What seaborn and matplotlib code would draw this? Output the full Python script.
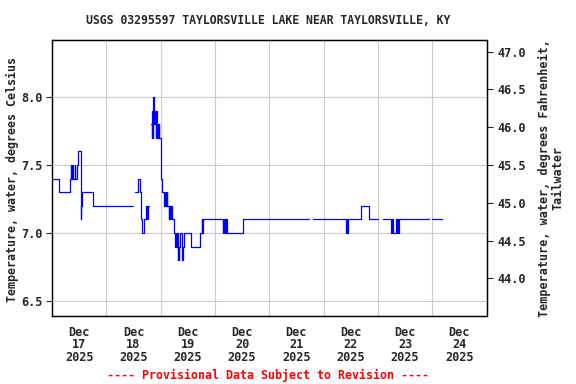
import matplotlib
matplotlib.use("Agg")
import matplotlib.pyplot as plt
import seaborn as sns
import pandas as pd
import numpy as np

# Hours since 2025-12-17 00:00, water temperature (deg C); separate segments = gaps
hours_a = [0.0, 3.25, 7.75, 8.25, 8.5, 8.75, 9.5, 10.0, 10.25, 11.0, 11.5, 12.75, 13.0, 13.25, 18.25, 35.75]
temp_a = [7.4, 7.3, 7.4, 7.5, 7.4, 7.5, 7.4, 7.5, 7.4, 7.5, 7.6, 7.1, 7.2, 7.3, 7.2, 7.2]

hours_b = [36.75, 38.0, 39.0, 39.5, 39.75, 40.5, 41.75, 42.0, 42.25, 42.75]
temp_b = [7.3, 7.4, 7.3, 7.1, 7.0, 7.1, 7.2, 7.1, 7.2, 7.2]

hours_c = [43.75, 44.0, 44.25, 44.5, 44.75, 45.0, 45.25, 45.5, 45.75, 46.0, 46.25, 46.5, 46.75,
           47.0, 47.25, 47.5, 48.0, 48.5, 49.5, 49.75, 50.0, 50.25, 50.5, 50.75, 51.0, 51.5,
           51.75, 52.0, 52.25, 52.5, 52.75, 53.0, 53.75, 54.5, 54.75, 55.0, 55.25, 55.5, 55.75,
           56.0, 56.25, 56.75, 57.5, 57.75, 58.5, 61.25, 65.25, 66.25, 66.5, 66.75, 75.5, 75.75,
           76.0, 76.5, 76.75, 77.0, 77.25, 84.25, 113.75]
temp_c = [7.8, 7.7, 7.9, 7.7, 8.0, 7.9, 7.8, 7.9, 7.7, 7.9, 7.8, 7.7, 7.8,
          7.7, 7.8, 7.7, 7.4, 7.3, 7.2, 7.3, 7.2, 7.3, 7.2, 7.3, 7.2, 7.1,
          7.2, 7.1, 7.2, 7.1, 7.2, 7.1, 7.0, 6.9, 7.0, 6.9, 7.0, 6.8, 6.9,
          6.8, 6.9, 7.0, 6.8, 6.9, 7.0, 6.9, 7.0, 7.1, 7.0, 7.1, 7.0, 7.1,
          7.0, 7.1, 7.0, 7.1, 7.0, 7.1, 7.1]

hours_d = [115.25, 130.0, 130.25, 130.5, 131.0, 136.5, 140.25, 144.0]
temp_d = [7.1, 7.0, 7.1, 7.0, 7.1, 7.2, 7.1, 7.1]

hours_e = [146.25, 150.0, 150.25, 150.5, 152.0, 152.25, 152.5, 152.75, 153.5, 166.75]
temp_e = [7.1, 7.0, 7.1, 7.0, 7.1, 7.0, 7.1, 7.0, 7.1, 7.1]

hours_f = [168.0, 172.25]
temp_f = [7.1, 7.1]

day_labels = ["Dec\n17\n2025", "Dec\n18\n2025", "Dec\n19\n2025", "Dec\n20\n2025",
              "Dec\n21\n2025", "Dec\n22\n2025", "Dec\n23\n2025", "Dec\n24\n2025"]
c_ticks = [6.5, 7.0, 7.5, 8.0]
f_ticks = [44.0, 44.5, 45.0, 45.5, 46.0, 46.5, 47.0]

title = "USGS 03295597 TAYLORSVILLE LAKE NEAR TAYLORSVILLE, KY"
left_label = "Temperature, water, degrees Celsius"
right_label = "Temperature, water, degrees Fahrenheit,\nTailwater"
footer = "---- Provisional Data Subject to Revision ----"

segs = []
for i, (h, t) in enumerate([(hours_a, temp_a), (hours_b, temp_b), (hours_c, temp_c),
                            (hours_d, temp_d), (hours_e, temp_e), (hours_f, temp_f)]):
    segs.append(pd.DataFrame({"hours": h, "temp": t, "segment": i}))
df = pd.concat(segs, ignore_index=True)

sns.set_style("white")
plt.rcParams["font.family"] = ["DejaVu Sans Mono", "DejaVu Sans"]
plt.rcParams["font.weight"] = "bold"

fig = plt.figure(figsize=(5.76, 3.84), dpi=100)
ax = fig.add_axes([52 / 576, 1 - 316 / 384, (486.5 - 52) / 576, (316 - 40) / 384])

sns.lineplot(data=df, x="hours", y="temp", units="segment", estimator=None,
             drawstyle="steps-post", color="#0000ff", lw=0.9, ax=ax, legend=False)

ylo, yhi = 6.39, 8.419
ax.set_xlim(0, 192)
ax.set_ylim(ylo, yhi)

ax.set_xticks([24 * k for k in range(1, 8)])
ax.set_xticklabels([])
ax.set_xticks([12 + 24 * k for k in range(8)], minor=True)
ax.set_xticklabels(day_labels, minor=True, fontsize=8.6, fontweight="bold", linespacing=0.95)
ax.tick_params(axis="x", which="both", length=0, pad=7)

ax.set_yticks(c_ticks)
ax.set_yticklabels([f"{v:.1f}" for v in c_ticks], fontsize=8.6, fontweight="bold")
ax.tick_params(axis="y", length=4, width=0.8, direction="out", pad=3, left=True)

ax.grid(True, which="major", color="#cccccc", lw=0.8)
ax.set_xlabel("")
ax.set_ylabel("")
for s in ax.spines.values():
    s.set_color("black")
    s.set_linewidth(0.9)

ax2 = ax.twinx()
ax2.set_ylim(ylo * 1.8 + 32, yhi * 1.8 + 32)
ax2.set_yticks(f_ticks)
ax2.set_yticklabels([f"{v:.1f}" for v in f_ticks], fontsize=8.6, fontweight="bold")
ax2.tick_params(axis="y", length=4, width=0.8, direction="out", pad=4, right=True)
ax2.grid(False)
for s in ax2.spines.values():
    s.set_color("black")
    s.set_linewidth(0.9)

fig.text(268 / 576, 1 - 20 / 384, title, ha="center", va="center", fontsize=8.3, fontweight="bold")
fig.text(12 / 576, 0.532, left_label, rotation=90, ha="center", va="center",
         fontsize=8.4, fontweight="bold")
fig.text(551 / 576, 0.536, right_label, rotation=90, ha="center", va="center",
         fontsize=8.5, fontweight="bold", multialignment="center", linespacing=1.0)
fig.text(268 / 576, 1 - 375 / 384, footer, ha="center", va="center", fontsize=8.4,
         fontweight="bold", color="#ff0000")

fig.savefig("out.png", dpi=100)
